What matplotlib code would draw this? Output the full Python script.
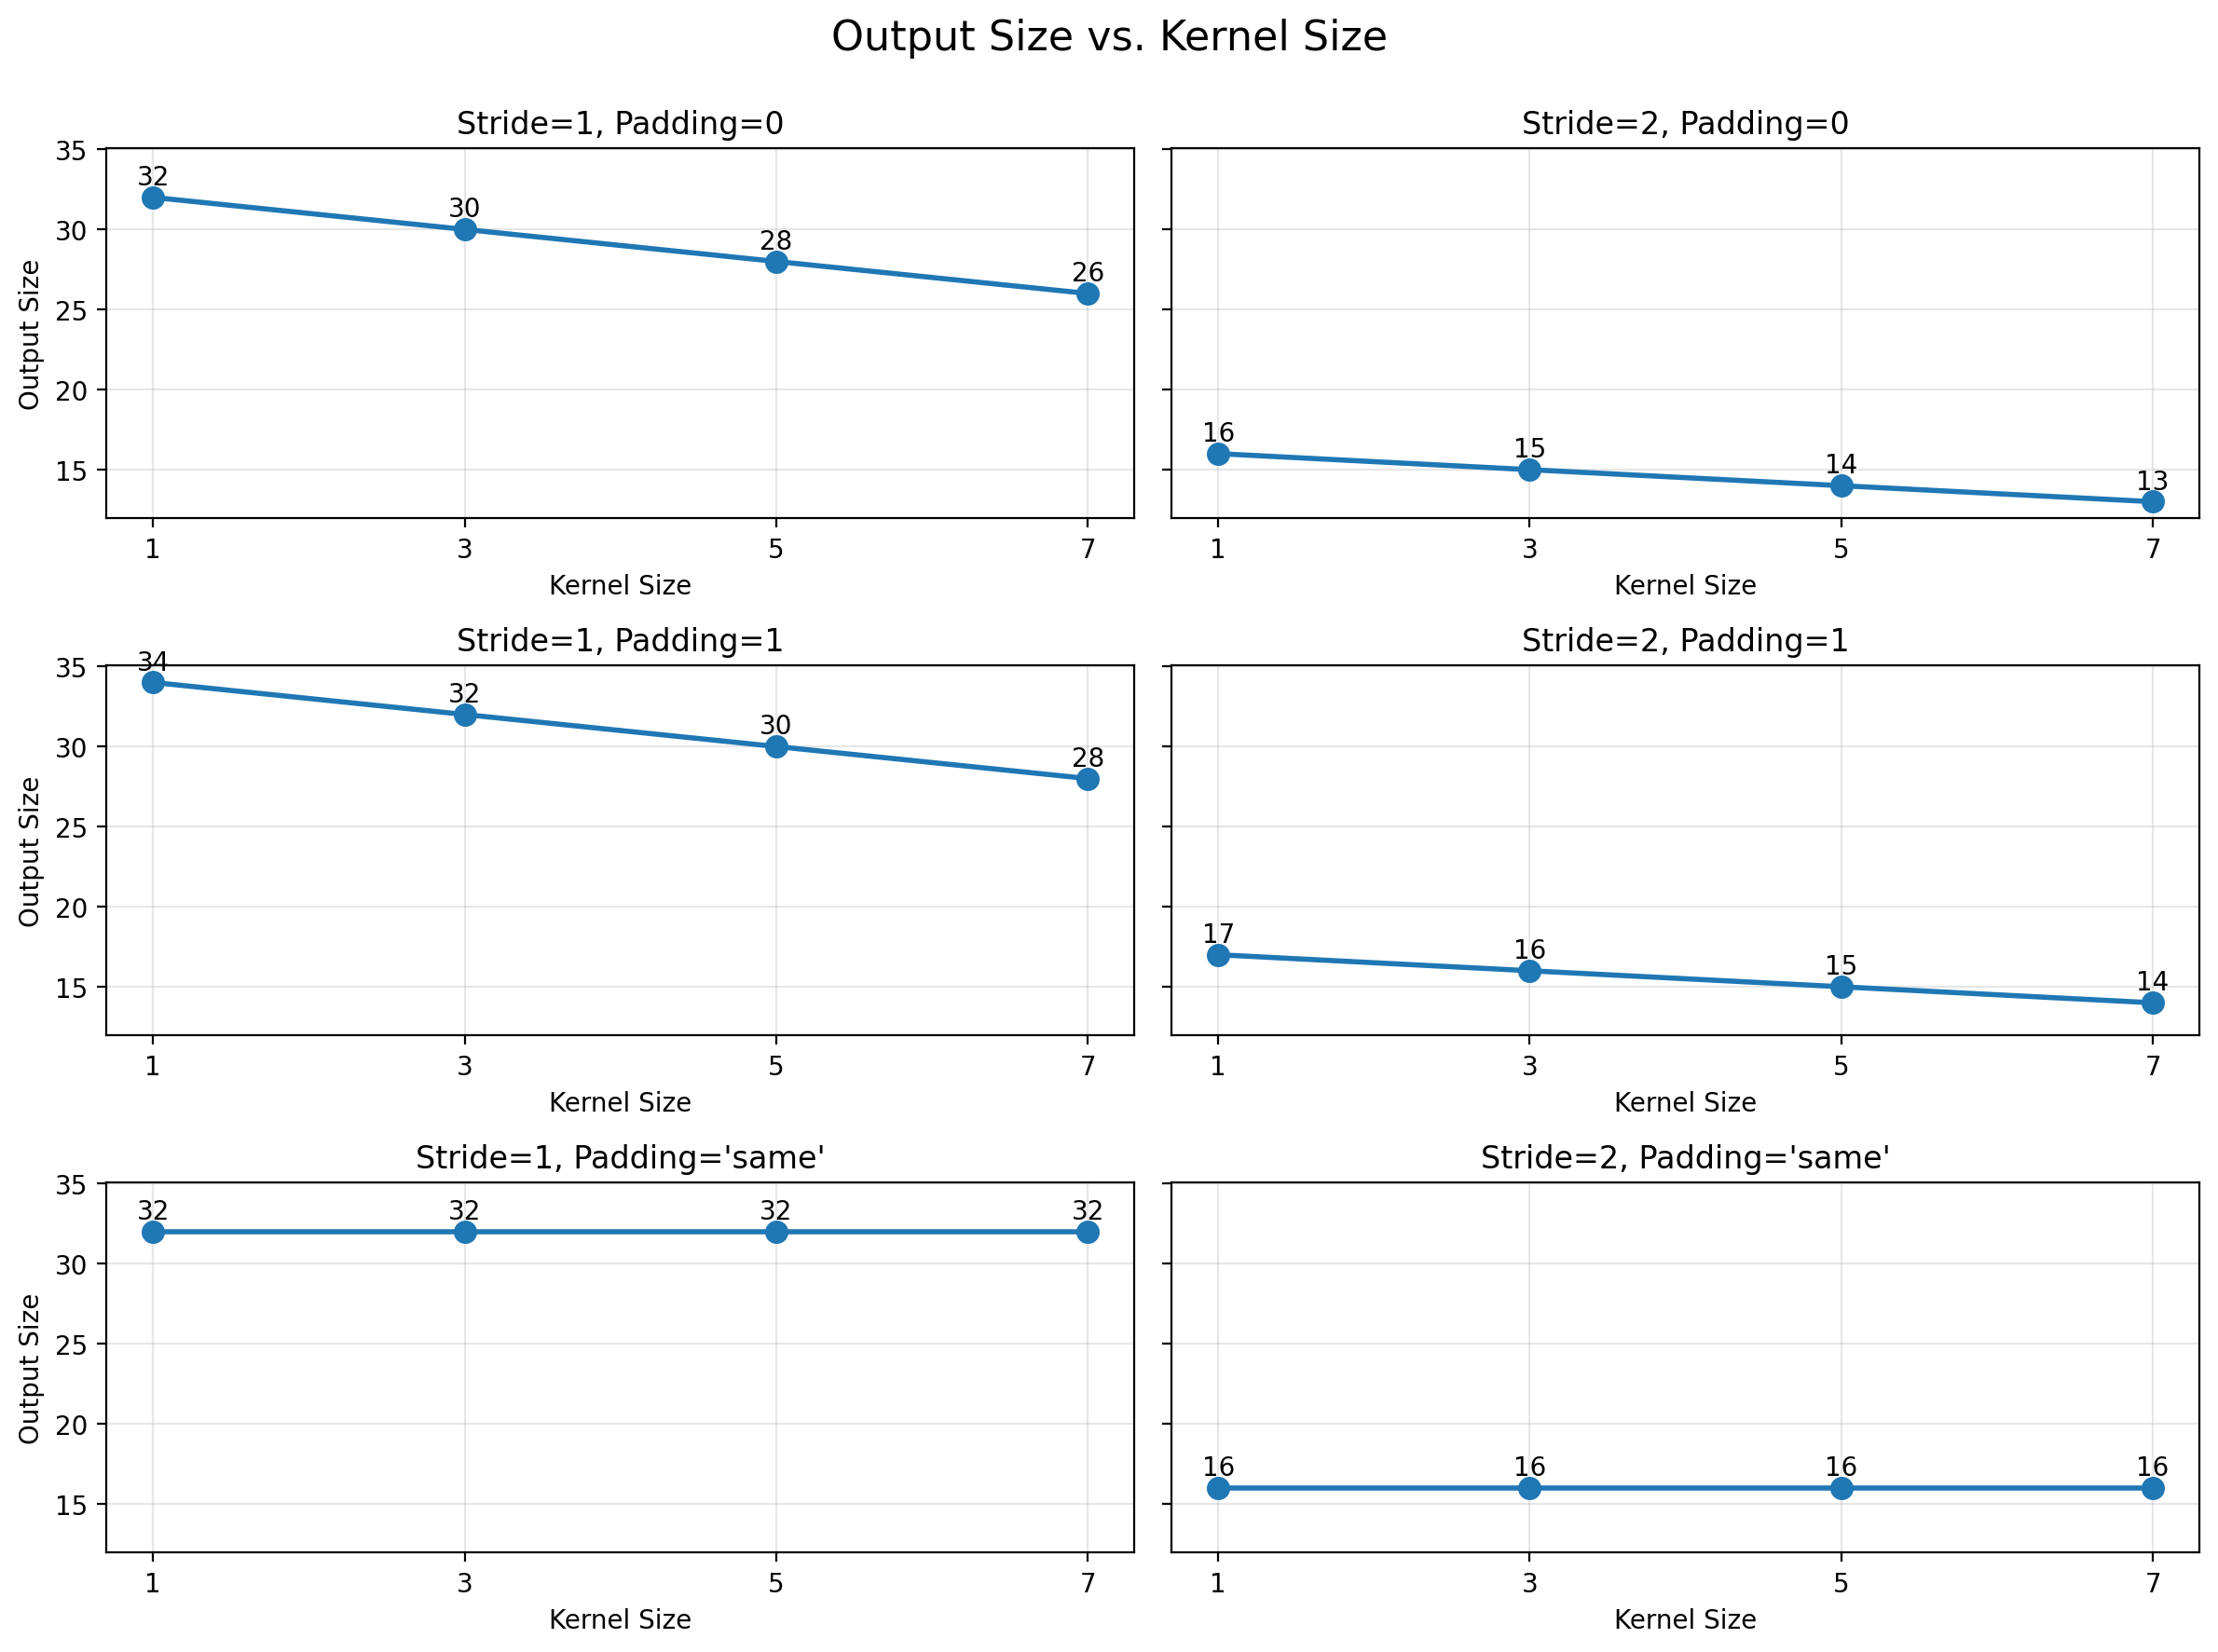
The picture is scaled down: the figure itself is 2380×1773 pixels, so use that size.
import numpy as np
import matplotlib
matplotlib.use("Agg")
import matplotlib.pyplot as plt

# donnees
kernel_sizes = [1, 3, 5, 7]
titles = ["Stride=1, Padding=0", "Stride=2, Padding=0",
          "Stride=1, Padding=1", "Stride=2, Padding=1",
          "Stride=1, Padding='same'", "Stride=2, Padding='same'"]
s1_p0 = [32, 30, 28, 26]
s2_p0 = [16, 15, 14, 13]
s1_p1 = [34, 32, 30, 28]
s2_p1 = [17, 16, 15, 14]
s1_same = [32, 32, 32, 32]
s2_same = [16, 16, 16, 16]
series = [s1_p0, s2_p0, s1_p1, s2_p1, s1_same, s2_same]

fig, axes = plt.subplots(3, 2, figsize=(12, 9), sharey=True)
for ax, title, vals in zip(axes.flat, titles, series):
    ax.plot(kernel_sizes, vals, marker='o', markersize=8, linewidth=2, color='#1f77b4')
    for k, v in zip(kernel_sizes, vals):
        ax.annotate(str(v), (k, v), textcoords="offset points", xytext=(0, 5),
                    ha='center', fontsize=10)
    ax.set_title(title, fontsize=12)
    ax.set_xlabel("Kernel Size")
    ax.set_xticks(kernel_sizes)
    ax.grid(True, alpha=0.3)
for ax in axes[:, 0]:
    ax.set_ylabel("Output Size")

fig.suptitle("Output Size vs. Kernel Size", fontsize=16)
fig.tight_layout()
fig.subplots_adjust(top=0.902)
fig.savefig("out.png", dpi=200, bbox_inches='tight')
